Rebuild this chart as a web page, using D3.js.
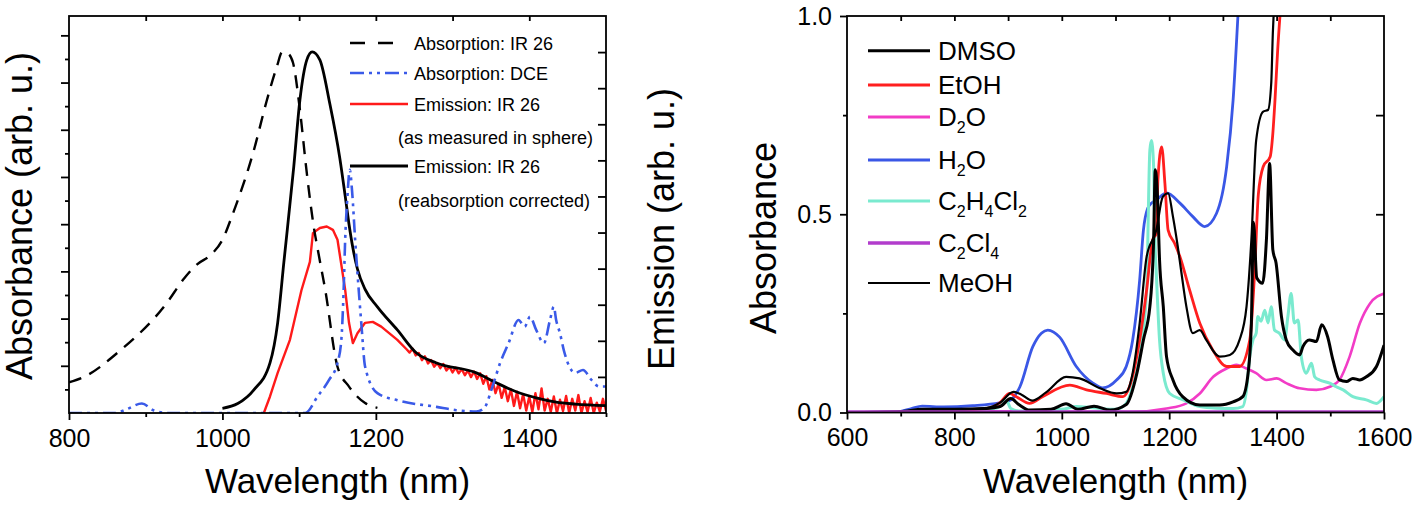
<!DOCTYPE html>
<html><head><meta charset="utf-8">
<script src="https://cdn.jsdelivr.net/npm/d3@7"></script>
<style>body{margin:0;background:#fff}svg{display:block}text{font-family:"Liberation Sans",Arial,sans-serif;fill:#000}</style>
</head><body><svg id="c" width="1418" height="508"></svg>
<script>
// ---------- LEFT PANEL DATA (wavelength nm, arb. units) ----------
const absIR26 = [[800,0.65],[819,0.76],[865,1.30],[927,2.32],[950,2.85],[967,3.15],[985,3.35],[1000,3.67],[1014,4.24],[1040,5.51],[1058,6.63],[1071,7.34],[1078,7.65],[1085,7.62],[1092,7.42],[1101,6.42],[1110,5.08],[1119,3.95],[1125,3.4],[1134,2.61],[1150,0.98],[1165,0.56],[1186,0.21],[1202,0.11]];
const emIR26Corr = [[1000,0.1],[1020,0.2],[1041,0.49],[1062,1.06],[1072,1.91],[1080,3.18],[1093,5.22],[1101,6.63],[1110,7.48],[1117,7.65],[1127,7.48],[1140,6.55],[1153,5.4],[1160,4.6],[1165,4.0],[1170,3.5],[1176,3.05],[1186,2.62],[1202,2.25],[1228,1.76],[1253,1.27],[1279,1.06],[1331,0.85],[1357,0.64],[1383,0.45],[1409,0.32],[1435,0.23],[1460,0.19],[1500,0.155]];
const emIR26Sphere = [[1054,0],[1062,0.35],[1072,0.85],[1088,1.55],[1103,2.6],[1114,3.2],[1118,3.81],[1127,3.92],[1136,3.95],[1144,3.88],[1150,3.67],[1160,2.61],[1165,1.91],[1170,1.48],[1176,1.69],[1186,1.91],[1196,1.93],[1207,1.83],[1228,1.55],
[1240,1.35],[1244,1.28],[1248,1.36],[1252,1.22],[1256,1.27],[1260,1.12],[1264,1.2],[1268,1.05],[1272,1.12],[1276,0.98],[1280,1.06],[1284,0.95],[1288,1.04],[1292,0.9],[1296,0.98],[1300,0.86],[1304,0.96],[1308,0.84],[1312,0.93],[1316,0.8],[1320,0.9],[1324,0.76],[1328,0.88],[1332,0.72],[1336,0.84],[1340,0.62],[1344,0.78],[1348,0.5],[1352,0.7],[1356,0.42],[1360,0.62],[1364,0.32],[1368,0.55],[1372,0.25],[1376,0.5],[1380,0.15],[1384,0.45],[1388,0.1],[1392,0.4],[1396,0.05],[1400,0.35],[1404,0.02],[1408,0.42],[1412,0.08],[1416,0.52],[1420,0.05],[1424,0.3],[1428,0.02],[1432,0.35],[1436,0.0],[1440,0.28],[1444,0.04],[1448,0.36],[1452,0.0],[1456,0.3],[1460,0.05],[1464,0.38],[1468,0.0],[1472,0.25],[1476,0.02],[1480,0.32],[1484,0.0],[1488,0.22],[1492,0.03],[1496,0.3],[1500,0.05]];
const absDCE = [[800,0],[860,0],[875,0.08],[895,0.2],[910,0.06],[930,0],[1000,0],[1108,0],[1124,0.35],[1139,0.7],[1150,1.06],[1155,1.55],[1158,2.6],[1160,3.67],[1163,4.6],[1166,5.15],[1169,4.7],[1173,3.67],[1176,2.97],[1181,1.91],[1186,0.98],[1202,0.42],[1228,0.27],[1279,0.13],[1305,0.06],[1331,0.03],[1341,0.1],[1352,0.56],[1362,1.06],[1373,1.48],[1386,1.97],[1394,1.83],[1401,2.04],[1409,1.76],[1419,1.48],[1427,1.97],[1432,2.25],[1435,1.97],[1440,1.69],[1445,1.33],[1460,0.85],[1470,0.91],[1481,0.70],[1491,0.56],[1500,0.56]];
const leftXMajor = [800,1000,1200,1400];
const leftXMinor = [900,1100,1300,1500];
const leftLegend = ["Absorption: IR 26","Absorption: DCE","Emission: IR 26","(as measured in sphere)","Emission: IR 26","(reabsorption corrected)"];

// ---------- RIGHT PANEL DATA (wavelength nm, absorbance) ----------
const DMSO = [[600,0],[700,0.002],[740,0.008],[800,0.008],[860,0.01],[885,0.015],[905,0.035],[920,0.02],[940,0.006],[980,0.008],[1008,0.022],[1030,0.008],[1060,0.016],[1090,0.006],[1120,0.02],[1140,0.1],[1152,0.183],[1164,0.267],[1171,0.435],[1174,0.612],[1178,0.55],[1182,0.385],[1189,0.267],[1195,0.141],[1207,0.082],[1225,0.04],[1257,0.019],[1294,0.019],[1319,0.027],[1337,0.04],[1347,0.1],[1353,0.225],[1357,0.48],[1363,0.34],[1374,0.326],[1381,0.435],[1387,0.628],[1393,0.41],[1399,0.377],[1409,0.242],[1418,0.183],[1430,0.158],[1443,0.145],[1449,0.166],[1461,0.183],[1474,0.179],[1484,0.221],[1495,0.191],[1505,0.132],[1517,0.082],[1530,0.078],[1542,0.086],[1555,0.082],[1567,0.09],[1586,0.116],[1600,0.17]];
const EtOH = [[600,0],[700,0.001],[740,0.005],[800,0.006],[860,0.01],[885,0.025],[903,0.048],[915,0.04],[940,0.023],[964,0.04],[1015,0.069],[1046,0.057],[1083,0.048],[1114,0.04],[1126,0.065],[1145,0.183],[1158,0.309],[1169,0.435],[1176,0.452],[1179,0.586],[1186,0.67],[1192,0.578],[1198,0.46],[1210,0.427],[1220,0.393],[1238,0.309],[1257,0.225],[1281,0.158],[1307,0.116],[1331,0.116],[1350,0.183],[1359,0.352],[1366,0.55],[1375,0.62],[1388,0.645],[1393,0.704],[1397,0.788],[1402,0.914],[1409,1.05]];
const D2O = [[600,0],[700,0.001],[800,0.003],[900,0.003],[1000,0.002],[1132,0.002],[1195,0.01],[1232,0.023],[1257,0.048],[1282,0.09],[1307,0.111],[1325,0.12],[1344,0.111],[1362,0.099],[1381,0.082],[1400,0.086],[1418,0.074],[1443,0.061],[1474,0.057],[1499,0.065],[1517,0.082],[1536,0.141],[1555,0.225],[1574,0.275],[1600,0.3]];
const H2O = [[600,0],[700,0.003],[720,0.01],[740,0.016],[780,0.014],[834,0.017],[884,0.024],[903,0.03],[922,0.065],[946,0.166],[962,0.2],[974,0.208],[996,0.19],[1027,0.116],[1058,0.074],[1076,0.062],[1102,0.082],[1120,0.116],[1132,0.183],[1145,0.334],[1152,0.46],[1160,0.515],[1167,0.528],[1176,0.536],[1195,0.554],[1220,0.528],[1244,0.494],[1266,0.469],[1288,0.502],[1307,0.62],[1319,0.788],[1328,1.0],[1334,1.15]];
const C2H4Cl2 = [[600,0],[700,0.001],[750,0.004],[850,0.008],[880,0.012],[891,0.023],[897,0.03],[905,0.01],[920,0.004],[1000,0.008],[1027,0.015],[1058,0.012],[1100,0.008],[1120,0.023],[1132,0.065],[1145,0.141],[1158,0.309],[1164,0.662],[1167,0.686],[1171,0.62],[1173,0.452],[1176,0.351],[1182,0.183],[1189,0.099],[1201,0.048],[1226,0.032],[1257,0.015],[1288,0.011],[1319,0.01],[1337,0.015],[1344,0.057],[1350,0.141],[1356,0.183],[1362,0.2],[1365,0.242],[1371,0.23],[1378,0.258],[1384,0.226],[1390,0.267],[1396,0.208],[1405,0.2],[1415,0.183],[1421,0.242],[1427,0.3],[1433,0.226],[1440,0.233],[1446,0.141],[1455,0.099],[1465,0.124],[1471,0.09],[1480,0.082],[1499,0.074],[1511,0.065],[1524,0.057],[1542,0.04],[1567,0.032],[1586,0.023],[1600,0.04]];
const C2Cl4 = [[600,0.002],[800,0.002],[1000,0.002],[1200,0.002],[1400,0.002],[1600,0.002]];
const MeOH = [[600,0],[700,0.002],[740,0.006],[800,0.007],[860,0.012],[885,0.025],[910,0.052],[925,0.045],[945,0.03],[970,0.05],[1008,0.09],[1033,0.086],[1071,0.061],[1102,0.048],[1120,0.052],[1132,0.1],[1145,0.225],[1158,0.393],[1176,0.46],[1188,0.544],[1198,0.553],[1207,0.494],[1216,0.418],[1222,0.36],[1232,0.267],[1244,0.2],[1257,0.208],[1269,0.183],[1294,0.141],[1313,0.145],[1331,0.183],[1344,0.267],[1353,0.435],[1362,0.687],[1375,0.759],[1384,0.763],[1390,0.83],[1393,0.957],[1396,1.05]];
const rightXMajor = [600,800,1000,1200,1400,1600];
const rightXMinor = [700,900,1100,1300,1500];
const rightYMajor = [0,0.5,1.0];
const rightYMinor = [0.25,0.75];
const rightLegend = [
  [["DMSO",0]],
  [["EtOH",0]],
  [["D",0],["2",1],["O",0]],
  [["H",0],["2",1],["O",0]],
  [["C",0],["2",1],["H",0],["4",1],["Cl",0],["2",1]],
  [["C",0],["2",1],["Cl",0],["4",1]],
  [["MeOH",0]]
];

const svg = d3.select("#c");
const FONT = '"Liberation Sans", Arial, sans-serif';

function styleAxis(g, fs){
  g.select(".domain").remove();
  g.selectAll(".tick line").attr("stroke","#000").attr("stroke-width",1.8);
  g.selectAll(".tick text").attr("font-size",fs).attr("font-family",FONT).attr("fill","#000");
}

// ================= LEFT PANEL =================
const xL = d3.scaleLinear().domain([800,1500]).range([69,606]);
const yL = d3.scaleLinear().domain([0,8.41]).range([413,16]);
const yE = d3.scaleLinear().domain([0,11]).range([413,16]);

const gL = svg.append("g");
gL.append("g").attr("transform","translate(0,413)")
  .call(d3.axisBottom(xL).tickValues(leftXMajor).tickSize(7).tickPadding(9).tickFormat(d3.format("d")))
  .call(g=>styleAxis(g,25));
gL.append("g").attr("transform","translate(0,413)")
  .call(d3.axisBottom(xL).tickValues(leftXMinor).tickSize(4).tickFormat(""))
  .call(g=>styleAxis(g,25));
gL.append("g").attr("transform","translate(0,16)")
  .call(d3.axisBottom(xL).tickValues(d3.range(900,1500,100)).tickSize(5).tickFormat(""))
  .call(g=>styleAxis(g,25));
gL.append("g").attr("transform","translate(69,0)")
  .call(d3.axisLeft(yL).tickValues(d3.range(1,9)).tickSize(8).tickFormat(""))
  .call(g=>styleAxis(g,25));
gL.append("g").attr("transform","translate(69,0)")
  .call(d3.axisLeft(yL).tickValues(d3.range(0.5,8.5,1)).tickSize(4).tickFormat(""))
  .call(g=>styleAxis(g,25));
gL.append("g").attr("transform","translate(606,0)")
  .call(d3.axisLeft(yE).tickValues(d3.range(1,11)).tickSize(8).tickFormat(""))
  .call(g=>styleAxis(g,25));

svg.append("clipPath").attr("id","clipL").append("rect").attr("x",69).attr("y",16).attr("width",537).attr("height",397);
const lineL = d3.line().x(d=>xL(d[0])).y(d=>yL(d[1])).curve(d3.curveMonotoneX);
const lineLlin = d3.line().x(d=>xL(d[0])).y(d=>yL(d[1]));
const cl = gL.append("g").attr("clip-path","url(#clipL)");
cl.append("path").datum(emIR26Sphere).attr("d",lineLlin).attr("fill","none").attr("stroke","#ff1a1a").attr("stroke-width",2.4).attr("stroke-linejoin","round");
cl.append("path").datum(emIR26Corr).attr("d",lineL).attr("fill","none").attr("stroke","#000").attr("stroke-width",2.8);
cl.append("path").datum(absIR26).attr("d",lineL).attr("fill","none").attr("stroke","#000").attr("stroke-width",2.4).attr("stroke-dasharray","13,9");
cl.append("path").datum(absDCE).attr("d",lineL).attr("fill","none").attr("stroke","#3a5ae8").attr("stroke-width",2.6).attr("stroke-dasharray","13,5,3,5,3,5");

gL.append("rect").attr("x",69).attr("y",16).attr("width",537).attr("height",397).attr("fill","none").attr("stroke","#000").attr("stroke-width",1.8);

// left legend
const legL = gL.append("g").attr("font-size",18).attr("font-family",FONT);
const legRowsL = [43,73,104,137,166,200];
const legStyles = [
  {c:"#000",d:"15,13",x2:395,w:2.4},
  {c:"#3a5ae8",d:"14,5,3,5,3,5",x2:407,w:2.6},
  {c:"#ff1a1a",d:null,x2:408,w:2.6},
  null,
  {c:"#000",d:null,x2:408,w:2.8},
  null];
leftLegend.forEach((t,i)=>{
  const s = legStyles[i];
  if(s){
    const l = legL.append("line").attr("x1",350).attr("x2",s.x2).attr("y1",legRowsL[i]).attr("y2",legRowsL[i]).attr("stroke",s.c).attr("stroke-width",s.w);
    if(s.d) l.attr("stroke-dasharray",s.d);
  }
  legL.append("text").attr("x", s?414:398).attr("y",legRowsL[i]+6.5).text(t);
});

// axis titles left
svg.append("text").attr("x",337.5).attr("y",493).attr("text-anchor","middle").attr("font-size",35).text("Wavelength (nm)");
svg.append("text").attr("transform","translate(32,216) rotate(-90)").attr("text-anchor","middle").attr("font-size",36).text("Absorbance (arb. u.)");
svg.append("text").attr("transform","translate(674,229) rotate(-90)").attr("text-anchor","middle").attr("font-size",36).text("Emission (arb. u.)");

// ================= RIGHT PANEL =================
const xR = d3.scaleLinear().domain([600,1600]).range([847,1384]);
const yR = d3.scaleLinear().domain([0,1]).range([412.5,16]);
const gR = svg.append("g");
gR.append("g").attr("transform","translate(0,412.5)")
  .call(d3.axisBottom(xR).tickValues(rightXMajor).tickSize(7).tickPadding(9).tickFormat(d3.format("d")))
  .call(g=>styleAxis(g,25));
gR.append("g").attr("transform","translate(0,412.5)")
  .call(d3.axisBottom(xR).tickValues(rightXMinor).tickSize(4).tickFormat(""))
  .call(g=>styleAxis(g,25));
gR.append("g").attr("transform","translate(0,16)")
  .call(d3.axisBottom(xR).tickValues(d3.range(700,1600,100)).tickSize(5).tickFormat(""))
  .call(g=>styleAxis(g,25));
gR.append("g").attr("transform","translate(847,0)")
  .call(d3.axisLeft(yR).tickValues(rightYMajor).tickSize(7).tickPadding(8).tickFormat(d3.format(".1f")))
  .call(g=>styleAxis(g,25));
gR.append("g").attr("transform","translate(847,0)")
  .call(d3.axisLeft(yR).tickValues(rightYMinor).tickSize(4).tickFormat(""))
  .call(g=>styleAxis(g,25));
gR.append("g").attr("transform","translate(1384,0)")
  .call(d3.axisLeft(yR).tickValues([0.25,0.5,0.75]).tickSize(8).tickFormat(""))
  .call(g=>styleAxis(g,25));

svg.append("clipPath").attr("id","clipR").append("rect").attr("x",847).attr("y",16).attr("width",537).attr("height",397);
const lineR = d3.line().x(d=>xR(d[0])).y(d=>yR(d[1])).curve(d3.curveMonotoneX);
const cr = gR.append("g").attr("clip-path","url(#clipR)");
const seriesR = [
  {d:H2O,c:"#3a57e6",w:2.8},
  {d:D2O,c:"#f23cc6",w:2.6},
  {d:C2H4Cl2,c:"#7aeacf",w:3},
  {d:EtOH,c:"#ff1f1f",w:2.8},
  {d:MeOH,c:"#000",w:2.2},
  {d:DMSO,c:"#000",w:3},
  {d:C2Cl4,c:"#b23ccc",w:3}
];
seriesR.forEach(s=>{
  cr.append("path").datum(s.d).attr("d",lineR).attr("fill","none").attr("stroke",s.c).attr("stroke-width",s.w).attr("stroke-linejoin","round");
});
gR.append("rect").attr("x",847).attr("y",16).attr("width",537).attr("height",396.5).attr("fill","none").attr("stroke","#000").attr("stroke-width",1.8);

// right legend
const legRowsR = [50.7,85,117,160,201,243,283];
const legColors = ["#000","#ff1f1f","#f23cc6","#3a57e6","#7aeacf","#b23ccc","#000"];
const legWidths = [3,3,3,3,3,3.5,2.2];
const legR = gR.append("g").attr("font-family",FONT);
rightLegend.forEach((parts,i)=>{
  const y = legRowsR[i];
  legR.append("line").attr("x1",868).attr("x2",930).attr("y1",y).attr("y2",y).attr("stroke",legColors[i]).attr("stroke-width",legWidths[i]);
  const t = legR.append("text").attr("x",938).attr("y",y+9).attr("font-size",26);
  let shift = 0;
  parts.forEach(p=>{
    const target = p[1] ? 7 : 0;
    const ts = t.append("tspan").attr("dy", target - shift).text(p[0]);
    if(p[1]) ts.attr("font-size",16);
    shift = target;
  });
});

svg.append("text").attr("x",1115.5).attr("y",493).attr("text-anchor","middle").attr("font-size",35).text("Wavelength (nm)");
svg.append("text").attr("transform","translate(776,238) rotate(-90)").attr("text-anchor","middle").attr("font-size",36).text("Absorbance");
</script></body></html>
